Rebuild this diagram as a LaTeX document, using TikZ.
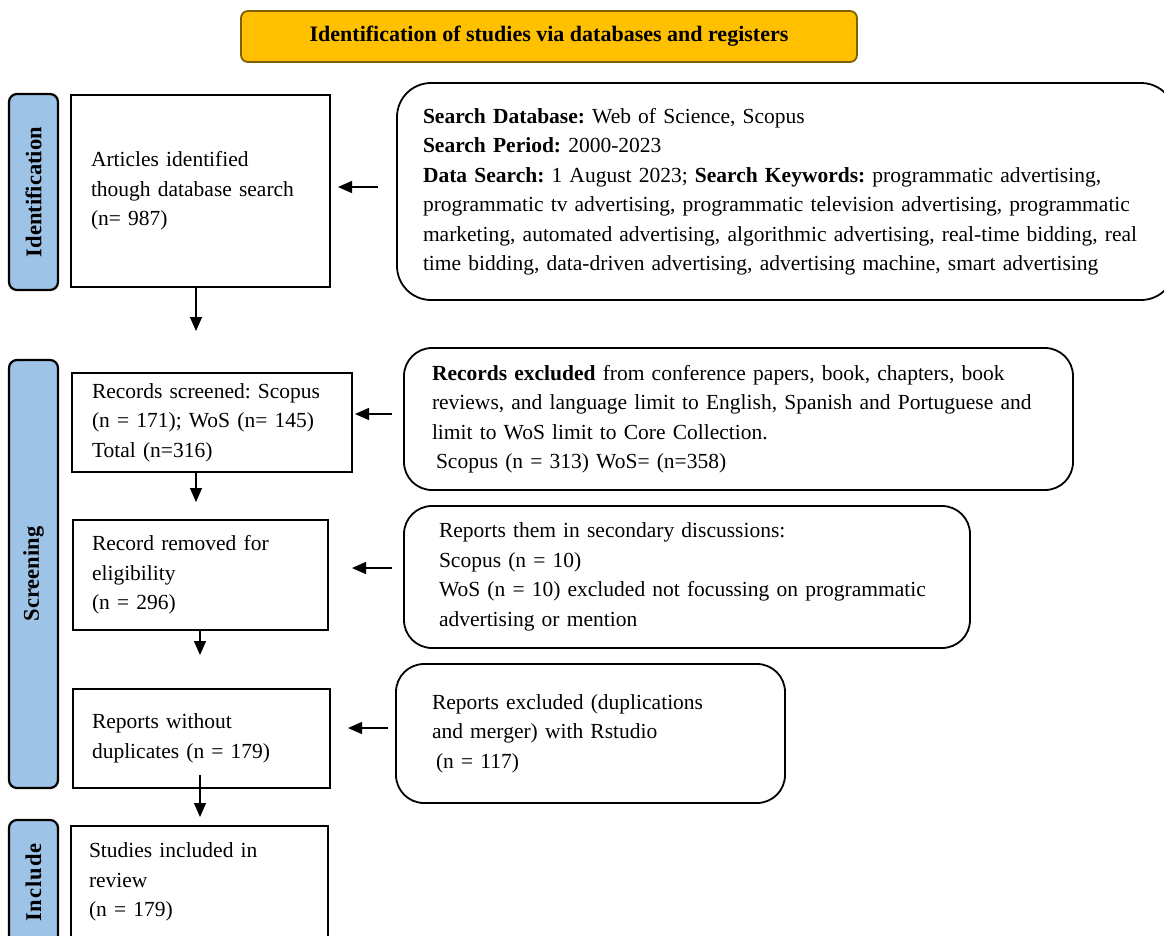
\documentclass[tikz,border=0pt]{standalone}
\usepackage{fontspec}
\setmainfont{Liberation Serif}
\usetikzlibrary{arrows.meta}
\definecolor{gold}{HTML}{FFC000}
\definecolor{goldline}{HTML}{7F6000}
\definecolor{sideblue}{HTML}{9DC3E6}
\frenchspacing
\begin{document}
\begin{tikzpicture}[x=1pt,y=-1pt,
  body/.style={font=\fontsize{21.5}{29.5}\selectfont},
  mainbox/.style={draw=black, line width=1.8pt, rectangle, body, align=left, anchor=center, inner ysep=0pt},
  notebox/.style={mainbox, rounded corners=28pt},
  sidelabel/.style={draw=black, line width=2.2pt, fill=sideblue, rounded corners=8pt, rotate=90,
     font=\fontsize{22.5}{24}\selectfont\bfseries, inner sep=0pt, anchor=center},
  arr/.style={line width=1.3pt, -{Triangle[length=14pt,width=12pt]}}
]
\useasboundingbox (0,0) rectangle (1164,935);
\clip (0,0) rectangle (1164,935);

% title
\node[draw=goldline, line width=1.8pt, fill=gold, rounded corners=7pt, minimum width=616pt, minimum height=51pt,
  font=\fontsize{22}{24}\selectfont\bfseries] (title) at (549,36.5) {Identification of studies via databases and registers};

% side labels
\node[sidelabel, minimum width=196pt, minimum height=49pt] (lid) at (33.5,192) {Identification};
\node[sidelabel, minimum width=428pt, minimum height=49pt] (lsc) at (33.5,574) {Screening};
\node[sidelabel, minimum width=125pt, minimum height=49pt] (lin) at (33.5,882.5) {I\kern1ptn\kern1ptc\kern1ptl\kern1ptu\kern1ptd\kern1pte};

% main column
\node[mainbox, minimum width=259pt, minimum height=192pt, inner xsep=20pt, text width=219pt] (art) at (200.5,191)
 {Articles identified\\though database search\\(n= 987)};
\node[mainbox, minimum width=280pt, minimum height=99pt, inner xsep=20pt, text width=240pt] (scr) at (212,422.5)
 {Records screened: Scopus\\(n = 171); WoS (n= 145)\\Total (n=316)};
\node[mainbox, minimum width=255pt, minimum height=110pt, inner xsep=19pt, text width=217pt] (rem) at (200.5,575)
 {Record removed for\\eligibility\\(n = 296)};
\node[mainbox, minimum width=257pt, minimum height=99pt, inner xsep=19pt, text width=219pt] (dup) at (201.5,738.5)
 {Reports without\\duplicates (n = 179)};
\node[mainbox, minimum width=257pt, minimum height=112pt, inner xsep=18pt, text width=221pt] (inc) at (199.5,882)
 {Studies included in\\review\\(n = 179)};

% right column
\node[notebox, rounded corners=34pt, minimum width=778pt, minimum height=217pt, inner xsep=26pt, text width=726pt] (search) at (786,191.5)
 {\textbf{Search Database:} Web of Science, Scopus\\
  \textbf{Search Period:} 2000-2023\\
  \textbf{Data Search:} 1 August 2023; \textbf{Search Keywords:} programmatic advertising,\\
  programmatic tv advertising, programmatic television advertising, programmatic\\
  marketing, automated advertising, algorithmic advertising, real-time bidding, real\\
  time bidding, data-driven advertising, advertising machine, smart advertising};
\node[notebox, minimum width=669pt, minimum height=142pt, inner xsep=28pt, text width=613pt] (exc) at (738.5,419)
 {\textbf{Records excluded} from conference papers, book, chapters, book\\
  reviews, and language limit to English, Spanish and Portuguese and\\
  limit to WoS limit to Core Collection.\\
  \hspace*{4pt}Scopus (n = 313) WoS= (n=358)};
\node[notebox, minimum width=566pt, minimum height=142pt, inner xsep=35pt, text width=496pt] (sec) at (687,577)
 {Reports them in secondary discussions:\\
  Scopus (n = 10)\\
  WoS (n = 10) excluded not focussing on programmatic\\
  advertising or mention};
\node[notebox, minimum width=389pt, minimum height=139pt, inner xsep=36pt, text width=317pt] (rst) at (590.5,733.5)
 {Reports excluded (duplications\\and merger) with Rstudio\\\hspace*{4pt}(n = 117)};

% connector end points
\coordinate (s1) at (378,187);  \coordinate (t1) at (338,187);
\coordinate (s2) at (392,414);  \coordinate (t2) at (355,414);
\coordinate (s3) at (392,568);  \coordinate (t3) at (352,568);
\coordinate (s4) at (388,728);  \coordinate (t4) at (348,728);
\coordinate (d1) at (196,331);
\coordinate (d2) at (196,502);
\coordinate (d2s) at (200,630); \coordinate (d3) at (200,655);
\coordinate (d4s) at (200,775); \coordinate (d4) at (200,817);

\draw[arr] (s1) -- (t1);
\draw[arr] (s2) -- (t2);
\draw[arr] (s3) -- (t3);
\draw[arr] (s4) -- (t4);
\draw[arr] (art.south -| d1) -- (d1);
\draw[arr] (scr.south -| d2) -- (d2);
\draw[arr] (d2s) -- (d3);
\draw[arr] (d4s) -- (d4);
\end{tikzpicture}
\end{document}
